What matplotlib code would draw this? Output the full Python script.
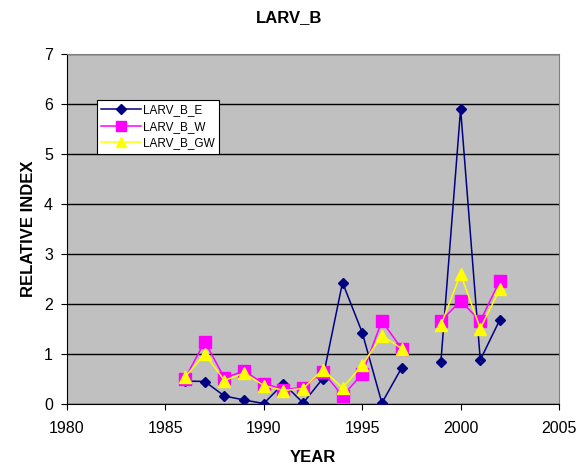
import numpy as np
import matplotlib
matplotlib.use("Agg")
import matplotlib.pyplot as plt

plt.rcParams['font.family'] = ['Liberation Sans', 'DejaVu Sans']

years = [1986, 1987, 1988, 1989, 1990, 1991, 1992, 1993, 1994, 1995, 1996, 1997, 1998, 1999, 2000, 2001, 2002]
larv_b_e = [0.46, 0.45, 0.16, 0.08, 0.01, 0.41, 0.02, 0.51, 2.43, 1.43, 0.02, 0.72, np.nan, 0.85, 5.90, 0.88, 1.69]
larv_b_w = [0.51, 1.25, 0.52, 0.66, 0.41, 0.29, 0.33, 0.65, 0.16, 0.60, 1.66, 1.11, np.nan, 1.66, 2.06, 1.66, 2.47]
larv_b_gw = [0.54, 1.00, 0.47, 0.62, 0.37, 0.27, 0.31, 0.69, 0.32, 0.78, 1.37, 1.11, np.nan, 1.58, 2.60, 1.51, 2.30]

x_ticks = [1980, 1985, 1990, 1995, 2000, 2005]
y_ticks = [0, 1, 2, 3, 4, 5, 6, 7]

W, H = 579, 470
L, R, T, B = 67, 559, 54, 404

fig = plt.figure(figsize=(W/100, H/100), dpi=100)
ax = fig.add_axes([L/W, 1-B/H, (R-L)/W, (B-T)/H])
ax.set_facecolor('#C0C0C0')

ax.plot(years, larv_b_e, color='#000080', marker='D', markersize=5.5, linewidth=1.1, label='LARV_B_E', zorder=3)
ax.plot(years, larv_b_w, color='#FF00FF', marker='s', markersize=8, linewidth=1.1, label='LARV_B_W', zorder=3)
ax.plot(years, larv_b_gw, color='#FFFF00', marker='^', markersize=8, linewidth=1.1, label='LARV_B_GW', zorder=4)

ax.set_xlim(1980, 2005)
ax.set_ylim(0, 7)
ax.set_xticks(x_ticks)
ax.set_yticks(y_ticks)
ax.yaxis.grid(True, color='black', linewidth=1)
ax.set_axisbelow(True)
ax.tick_params(direction='out', length=4, labelsize=11.5, colors='black')
ax.tick_params(axis='x', pad=8)
ax.tick_params(axis='y', pad=6)
for s in ['top', 'right']:
    ax.spines[s].set_color('#808080')
for s in ['left', 'bottom']:
    ax.spines[s].set_color('black')

ax.set_xlabel('YEAR', fontweight='bold', fontsize=12, labelpad=10)
ax.set_ylabel('RELATIVE INDEX', fontweight='bold', fontsize=12, labelpad=6)
fig.text(289/W, 1-17.5/H, 'LARV_B', ha='center', va='center', fontweight='bold', fontsize=12)

leg = ax.legend(loc='upper left', bbox_to_anchor=((97-L)/(R-L), (B-100)/(B-T)), fontsize=8.5,
                frameon=True, fancybox=False, edgecolor='black', framealpha=1,
                borderpad=0.35, labelspacing=0.4, handlelength=3.4, handletextpad=0.15,
                borderaxespad=0, markerscale=0.85)
leg.get_frame().set_linewidth(0.8)

fig.savefig('out.png', dpi=100)
